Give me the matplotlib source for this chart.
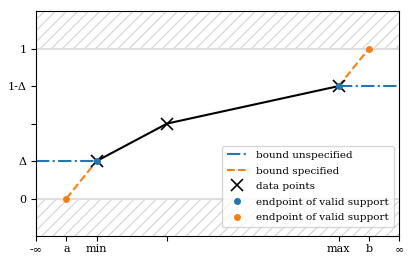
import matplotlib
matplotlib.use("Agg")
import matplotlib.pyplot as plt

plt.rcParams['font.family'] = ['DejaVu Serif']
plt.rcParams['font.size'] = 7.5
plt.rcParams['axes.unicode_minus'] = False
plt.rcParams['hatch.color'] = '#d4d4d4'
plt.rcParams['hatch.linewidth'] = 0.8

# data points (interior of support)
data_x = [2, 4.33, 10]
data_y = [0.25, 0.5, 0.75]

# left/right end of the range and the specified bounds
x_lo, x_hi = 0, 12
a, b = 1, 11
y_lo, y_hi = 0, 1

x_ticks = [0, 1, 2, 4.33, 10, 11, 12]
x_labels = ['-∞', 'a', 'min', '', 'max', 'b', '∞']
y_ticks = [0, 0.25, 0.5, 0.75, 1]
y_labels = ['0', 'Δ', '', '1-Δ', '1']

fig, ax = plt.subplots(figsize=(4.15, 2.64), dpi=100)
fig.subplots_adjust(left=0.087, right=0.962, top=0.958, bottom=0.106)

# invalid regions
ax.axhspan(1, 1.25, facecolor='none', edgecolor='#d4d4d4', hatch='///', lw=0)
ax.axhspan(-0.25, 0, facecolor='none', edgecolor='#d4d4d4', hatch='///', lw=0)
ax.axhline(1, color='#d8d8d8', lw=1.2)
ax.axhline(0, color='#d8d8d8', lw=1.2)

ax.plot([x_lo, data_x[0]], [data_y[0], data_y[0]], '-.', color='C0', label='bound unspecified')
ax.plot([data_x[-1], x_hi], [data_y[-1], data_y[-1]], '-.', color='C0')
ax.plot([a, data_x[0]], [y_lo, data_y[0]], '--', color='C1', label='bound specified')
ax.plot([data_x[-1], b], [data_y[-1], y_hi], '--', color='C1')
ax.plot(data_x, data_y, 'k-')
ax.plot(data_x, data_y, 'kx', ms=8, mew=1.2, label='data points')
ax.plot([data_x[0], data_x[-1]], [data_y[0], data_y[-1]], 'o', color='C0', ms=4,
        label='endpoint of valid support')
ax.plot([a, b], [y_lo, y_hi], 'o', color='C1', ms=4, label='endpoint of valid support')

ax.set_xlim(x_lo, x_hi)
ax.set_ylim(-0.25, 1.25)
ax.set_xticks(x_ticks)
ax.set_xticklabels(x_labels, fontsize=8)
ax.set_yticks(y_ticks)
ax.set_yticklabels(y_labels, fontsize=8)
ax.tick_params(axis='x', pad=2.5)
ax.legend(loc='lower right', fontsize=7.5, handlelength=2, borderpad=0.5,
          labelspacing=0.6, framealpha=0.8, bbox_to_anchor=(1.0, 0.015))

fig.savefig('out.png')
